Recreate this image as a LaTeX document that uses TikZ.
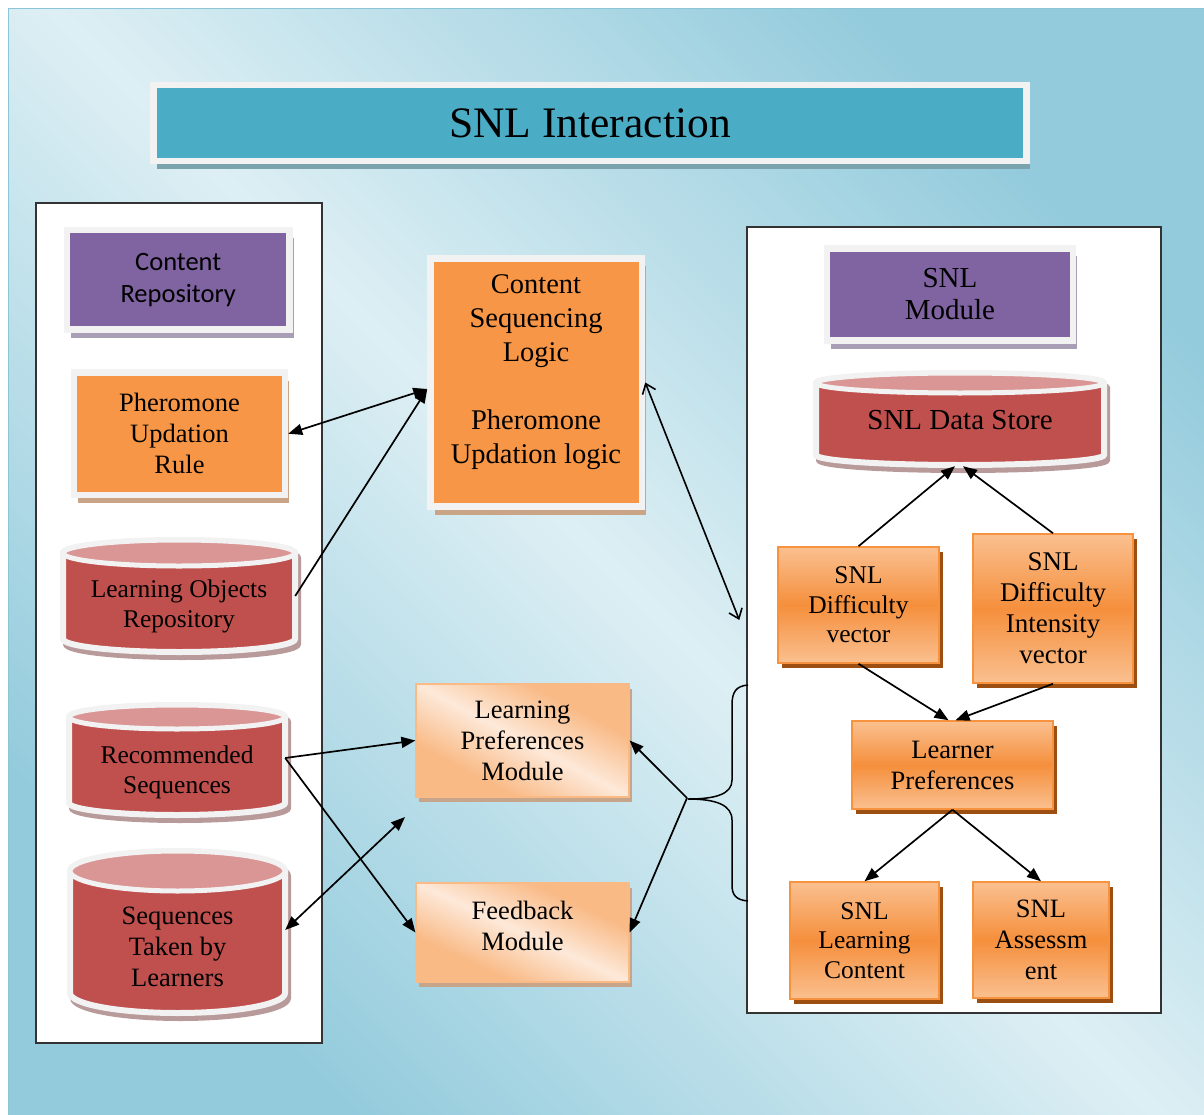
\documentclass[tikz,border=0pt]{standalone}
\usepackage{fontspec}
\setmainfont{Liberation Serif}
\newfontfamily\calfont{Carlito}
\usetikzlibrary{arrows.meta,shadows,calc}
\definecolor{bglight}{HTML}{DDEFF4}
\definecolor{bgdark}{HTML}{93CBDC}
\definecolor{bgline}{HTML}{8CC6D6}
\definecolor{frameW}{HTML}{F2F2F2}
\definecolor{purp}{HTML}{8064A2}
\definecolor{purpsh}{HTML}{A89FB6}
\definecolor{orng}{HTML}{F79646}
\definecolor{orngsh}{HTML}{C9A486}
\definecolor{tealc}{HTML}{4BACC6}
\definecolor{tealsh}{HTML}{7BA3AD}
\definecolor{redc}{HTML}{C0504D}
\definecolor{pinkc}{HTML}{D99694}
\definecolor{cylsh}{HTML}{B99A9A}
\definecolor{peachL}{HTML}{FDE9D9}
\definecolor{peachD}{HTML}{F9BA86}
\definecolor{peachline}{HTML}{F9BA86}
\definecolor{peachsh}{HTML}{C7A58B}
\definecolor{grL}{HTML}{FAC090}
\definecolor{grM}{HTML}{F58F3C}
\definecolor{grline}{HTML}{F7923F}
\definecolor{grsh}{HTML}{9C4F10}
\definecolor{panelline}{HTML}{333333}
\pgfdeclareverticalshading{bgshade}{100bp}{color(0bp)=(bgdark); color(25bp)=(bgdark); color(50bp)=(bglight); color(75bp)=(bgdark); color(100bp)=(bgdark)}
\pgfdeclareverticalshading{peachshade}{100bp}{color(0bp)=(peachD); color(32bp)=(peachD); color(50bp)=(peachL); color(68bp)=(peachD); color(100bp)=(peachD)}
\newcommand\dbcyl[5]{%
  \pgfmathsetmacro\cylcx{(#1+#2)/2}%
  \pgfmathsetmacro\cylrx{(#2-#1)/2}%
  \path[fill=cylsh, draw=cylsh, line width=6pt, shift={(3,5)}] (#1,#3) -- (#1,#4) arc[start angle=180, end angle=0, x radius=\cylrx, y radius=#5] -- (#2,#3) arc[start angle=0, end angle=-180, x radius=\cylrx, y radius=#5] -- cycle;
  \path[fill=redc, draw=frameW, line width=6pt] (#1,#3) -- (#1,#4) arc[start angle=180, end angle=0, x radius=\cylrx, y radius=#5] -- (#2,#3) arc[start angle=0, end angle=-180, x radius=\cylrx, y radius=#5] -- cycle;
  \path[fill=pinkc, draw=frameW, line width=5pt] (\cylcx,#3) ellipse[x radius=\cylrx, y radius=#5];
}
\tikzset{
  txt/.style={font=\fontsize{26.5}{31}\selectfont, align=center, text=black, inner sep=0pt},
  framed/.style={draw=frameW, line width=6.5pt, inner sep=0pt, txt},
  purpbox/.style={framed, fill=purp, drop shadow={shadow xshift=4pt, shadow yshift=-8pt, fill=purpsh, opacity=1}},
  orbox/.style={framed, fill=orng, drop shadow={shadow xshift=4pt, shadow yshift=-8pt, fill=orngsh, opacity=1}},
  titlebox/.style={framed, fill=tealc, drop shadow={shadow xshift=3pt, shadow yshift=-8pt, fill=tealsh, opacity=1}},
  peachbox/.style={txt, draw=peachline, line width=1.2pt, shade, shading=peachshade, drop shadow={shadow xshift=3pt, shadow yshift=-5pt, fill=peachsh, opacity=1}},
  gradbox/.style={txt, draw=grline, line width=1.5pt, top color=grL, bottom color=grL, middle color=grM, drop shadow={shadow xshift=4pt, shadow yshift=-5pt, fill=grsh, opacity=1}},
  panel/.style={draw=panelline, fill=white, line width=1.4pt},
  arr/.style={line width=1.7pt, -{Triangle[length=14pt,width=11pt]}},
  darr/.style={line width=1.7pt, {Triangle[length=14pt,width=11pt]}-{Triangle[length=14pt,width=11pt]}},
  oarr/.style={line width=1.6pt, {Straight Barb[length=9pt,width=14pt]}-{Straight Barb[length=9pt,width=14pt]}},
}
\begin{document}
\begin{tikzpicture}[x=1pt, y=-1pt]
\useasboundingbox (0,0) rectangle (1204,1115);
\fill[white] (0,0) rectangle (1204,1115);
\path[shade, shading=bgshade, shading angle=-45, draw=bgline, line width=1pt] (8.5,8.5) rectangle (1204,1115);

% title
\node[titlebox, minimum width=873pt, minimum height=76pt, font=\fontsize{43.5}{50}\selectfont] (title) at (590,123) {SNL Interaction};

% panels
\node[panel, minimum width=286pt, minimum height=840pt] (lpanel) at (179,623) {};
\node[panel, minimum width=414pt, minimum height=786pt] (rpanel) at (954,620) {};

% brace
\draw[line width=1.5pt] (748,685) .. controls (736,686) and (732,692) .. (732,705) -- (732,780) .. controls (732,794) and (716,799) .. (688,799) .. controls (716,799) and (732,805) .. (732,820) -- (732,885) .. controls (732,895) and (736,900) .. (748,901);
\coordinate (btip) at (687,798);

% left boxes
\node[purpbox, minimum width=222.5pt, minimum height=99.5pt, font=\calfont\fontsize{26.5}{32}\selectfont] (cr) at (178.25,279.75) {Content\\Repository};
\node[orbox, minimum width=211pt, minimum height=122.5pt] (pur) at (179.5,433.75) {Pheromone\\Updation\\Rule};

% cylinders
\dbcyl{63}{295}{553}{639}{13}
\node[txt, font=\fontsize{25.5}{30}\selectfont, minimum width=232pt] (lor) at (179,606) {Learning Objects\\Repository};
\dbcyl{69}{285}{717}{803}{12}
\node[txt, font=\fontsize{25.5}{30}\selectfont, minimum width=216pt] (rs) at (177,772) {Recommended\\Sequences};
\dbcyl{70}{285}{871}{993}{20}
\node[txt, minimum width=215pt] (stl) at (177.5,947) {Sequences\\Taken by\\Learners};
\dbcyl{816}{1104}{383}{455}{10}
\node[txt, font=\fontsize{29}{34}\selectfont, minimum width=288pt, minimum height=92pt] (sds) at (960,420) {SNL Data Store};

% middle boxes
\node[orbox, minimum width=211.5pt, minimum height=248pt] (csl) at (536.25,382.5) {};
\node[txt, font=\fontsize{28.5}{34}\selectfont] (cslt) at (536,372) {Content\\Sequencing\\Logic\\~\\Pheromone\\Updation logic};
\node[peachbox, shading angle=-28, minimum width=213pt, minimum height=113pt] (lpm) at (522.5,740.5) {Learning\\Preferences\\Module};
\node[peachbox, shading angle=-25, minimum width=213pt, minimum height=99pt] (fm) at (522.5,932.5) {};
\node[txt] (fmt) at (522.5,926) {Feedback\\Module};

% right boxes
\node[purpbox, minimum width=246pt, minimum height=92pt, font=\fontsize{29}{32}\selectfont] (snlm) at (950,294.5) {SNL\\Module};
\node[gradbox, minimum width=161pt, minimum height=116pt, font=\fontsize{25.5}{29.5}\selectfont] (dv) at (858.5,605) {SNL\\Difficulty\\vector};
\node[gradbox, minimum width=160pt, minimum height=149pt, font=\fontsize{27}{31}\selectfont] (div) at (1053,608.5) {SNL\\Difficulty\\Intensity\\vector};
\node[gradbox, minimum width=201pt, minimum height=88pt] (lpref) at (952.5,765) {Learner\\Preferences};
\node[gradbox, minimum width=149pt, minimum height=117pt, font=\fontsize{25.5}{29.5}\selectfont] (slc) at (864.5,940.5) {SNL\\Learning\\Content};
\node[gradbox, minimum width=136pt, minimum height=116pt] (sa) at (1041,940) {SNL\\Assessm\\ent};

% connectors
\draw[darr] (pur.east) -- ([yshift=-6.5pt]csl.west);
\draw[arr] ([yshift=10pt]lor.east) -- ([yshift=-6.5pt]csl.west);
\draw[oarr] (csl.east) -- ([xshift=-7pt]rpanel.west);
\draw[arr] ([yshift=14pt]rs.east) -- (lpm.west);
\draw[arr] ([yshift=14pt]rs.east) -- (fm.west);
\coordinate (stlfree) at (405,817);
\draw[darr] ([yshift=17pt]stl.east) -- (stlfree);
\draw[arr] (dv.north) -- ([xshift=-5pt]sds.south);
\draw[arr] (div.north) -- ([xshift=3pt]sds.south);
\draw[arr] (dv.south) -- ([xshift=-4pt]lpref.north);
\draw[arr] (div.south) -- ([xshift=3pt]lpref.north);
\draw[arr] (lpref.south) -- (slc.north);
\draw[arr] (lpref.south) -- (sa.north);
\draw[arr] (btip) -- (lpm.east);
\draw[arr] (btip) -- (fm.east);
\end{tikzpicture}
\end{document}
